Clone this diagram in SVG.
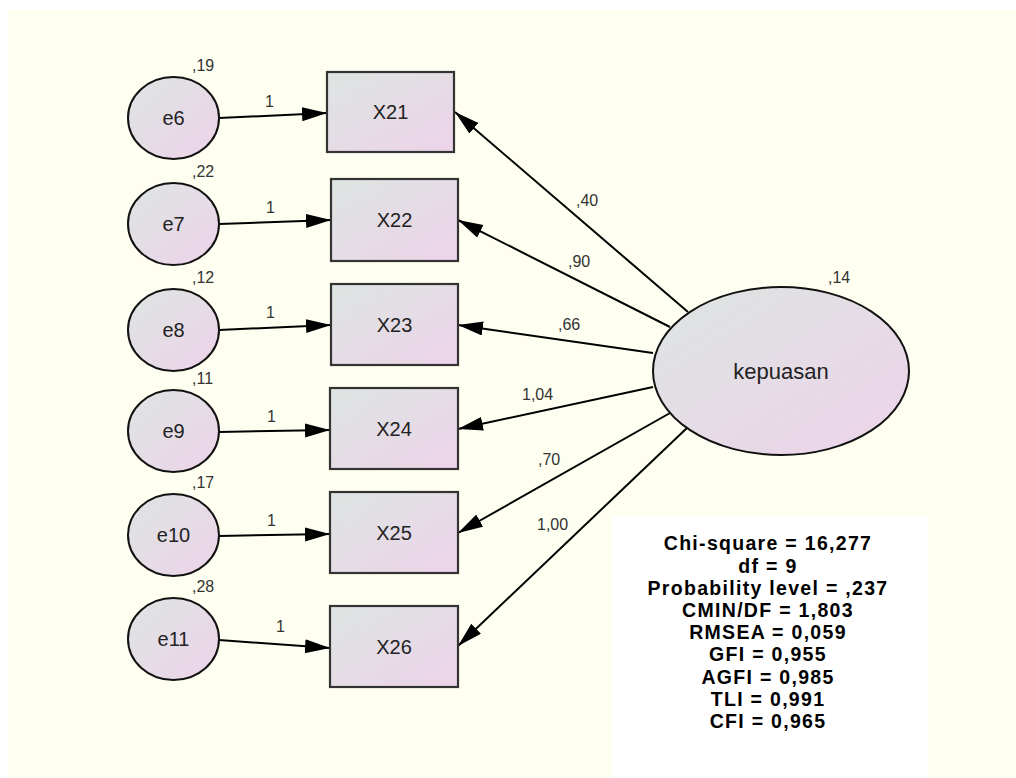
<svg xmlns="http://www.w3.org/2000/svg" width="1016" height="778" viewBox="0 0 1016 778">
<defs>
<linearGradient id="g" x1="0" y1="0" x2="1" y2="1">
<stop offset="0" stop-color="#DDE5E2"/>
<stop offset="1" stop-color="#EDD3E9"/>
</linearGradient>
<marker id="ah" markerWidth="26" markerHeight="16" refX="25" refY="7" orient="auto" markerUnits="userSpaceOnUse">
<path d="M0,0 L25,7 L0,14 z" fill="#000"/>
</marker>
<style>
.n{fill:url(#g);stroke:#111;stroke-width:2}
.r{fill:url(#g);stroke:#333;stroke-width:2.2}
.t{font-family:"Liberation Sans",Arial,sans-serif;font-size:20px;fill:#222;text-anchor:middle}
.k{font-size:22px}
.l{font-family:"Liberation Sans",Arial,sans-serif;font-size:16px;fill:#333}
.c line{stroke:#000;stroke-width:2;marker-end:url(#ah)}
.s{font-family:"Liberation Sans",Arial,sans-serif;font-size:19.5px;letter-spacing:1.3px;font-weight:bold;fill:#000;text-anchor:middle}
</style>
</defs>
<rect x="0" y="0" width="1016" height="778" fill="#fff"/>
<rect x="8" y="10" width="1008" height="768" fill="#FEFFF0"/>
<rect x="612" y="516" width="316" height="262" fill="#fff"/>

<g id="connectors" class="c">
<line x1="219" y1="118" x2="327" y2="113"/>
<line x1="219" y1="224" x2="331" y2="220"/>
<line x1="219" y1="330" x2="331" y2="325"/>
<line x1="219" y1="432" x2="330" y2="430"/>
<line x1="219" y1="536" x2="330" y2="534"/>
<line x1="219" y1="640" x2="330" y2="648"/>
<line x1="688" y1="312" x2="455" y2="112"/>
<line x1="670" y1="327" x2="458" y2="220"/>
<line x1="653" y1="353" x2="458" y2="325"/>
<line x1="653" y1="387" x2="458" y2="429"/>
<line x1="670" y1="413" x2="458" y2="533"/>
<line x1="688" y1="427" x2="458" y2="646"/>
</g>

<g id="path-labels">
<text class="l" x="265" y="107">1</text>
<text class="l" x="266" y="213">1</text>
<text class="l" x="266" y="318">1</text>
<text class="l" x="267" y="422">1</text>
<text class="l" x="267" y="526">1</text>
<text class="l" x="276" y="632">1</text>
<text class="l" x="576" y="206">,40</text>
<text class="l" x="568" y="267">,90</text>
<text class="l" x="558" y="330">,66</text>
<text class="l" x="522" y="400">1,04</text>
<text class="l" x="538" y="465">,70</text>
<text class="l" x="537" y="530">1,00</text>
</g>

<g id="e6"><ellipse class="n" cx="173.5" cy="118" rx="45.5" ry="41"/><text class="t" x="173.5" y="125">e6</text><text class="l" x="192" y="71">,19</text></g>
<g id="e7"><ellipse class="n" cx="173.5" cy="224" rx="45.5" ry="41"/><text class="t" x="173.5" y="231">e7</text><text class="l" x="192" y="177">,22</text></g>
<g id="e8"><ellipse class="n" cx="173.5" cy="330" rx="45.5" ry="41"/><text class="t" x="173.5" y="337">e8</text><text class="l" x="192" y="283">,12</text></g>
<g id="e9"><ellipse class="n" cx="173.5" cy="431" rx="45.5" ry="41"/><text class="t" x="173.5" y="438">e9</text><text class="l" x="192" y="384">,11</text></g>
<g id="e10"><ellipse class="n" cx="173.5" cy="535" rx="45.5" ry="41"/><text class="t" x="173.5" y="542">e10</text><text class="l" x="192" y="488">,17</text></g>
<g id="e11"><ellipse class="n" cx="173.5" cy="639" rx="45.5" ry="41"/><text class="t" x="173.5" y="646">e11</text><text class="l" x="192" y="592">,28</text></g>

<g id="X21"><rect class="r" x="327" y="72" width="127" height="80"/><text class="t" x="390.5" y="119">X21</text></g>
<g id="X22"><rect class="r" x="331" y="179" width="127" height="82"/><text class="t" x="394.5" y="227">X22</text></g>
<g id="X23"><rect class="r" x="331" y="284" width="127" height="81"/><text class="t" x="394.5" y="332">X23</text></g>
<g id="X24"><rect class="r" x="330" y="388" width="128" height="81"/><text class="t" x="394" y="436">X24</text></g>
<g id="X25"><rect class="r" x="330" y="492" width="128" height="81"/><text class="t" x="394" y="540">X25</text></g>
<g id="X26"><rect class="r" x="330" y="606" width="128" height="81"/><text class="t" x="394" y="654">X26</text></g>

<g id="kepuasan"><ellipse class="n" cx="781" cy="371" rx="128" ry="84"/><text class="t k" x="781" y="379">kepuasan</text><text class="l" x="828" y="283">,14</text></g>

<g id="stats">
<text class="s" x="768" y="550">Chi-square = 16,277</text>
<text class="s" x="768" y="572.5">df = 9</text>
<text class="s" x="768" y="595">Probability level = ,237</text>
<text class="s" x="768" y="617">CMIN/DF = 1,803</text>
<text class="s" x="768" y="639">RMSEA = 0,059</text>
<text class="s" x="768" y="661">GFI = 0,955</text>
<text class="s" x="768" y="684">AGFI = 0,985</text>
<text class="s" x="768" y="706">TLI = 0,991</text>
<text class="s" x="768" y="728">CFI = 0,965</text>
</g>
</svg>
